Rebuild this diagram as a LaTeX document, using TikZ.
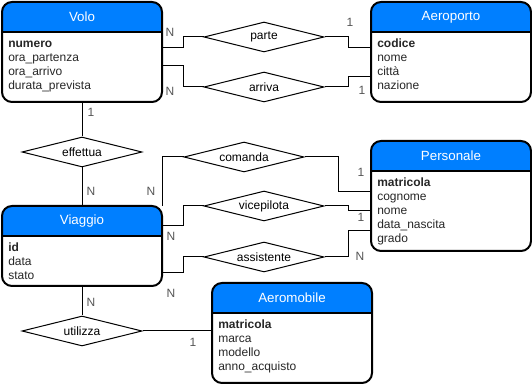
\documentclass[tikz,border=0pt]{standalone}
\usepackage{fontspec}
\setmainfont{Liberation Sans}
\usetikzlibrary{shapes.geometric, calc}

\definecolor{headblue}{RGB}{0,127,255}
\definecolor{cardgray}{RGB}{85,85,85}

% entity box: name, top-left corner, height, title, attribute list
\newcommand{\erentity}[5]{%
  \node[entbox, minimum height=#3*0.75pt] (#1) at (#2) {};
  \begin{scope}
    \clip[rounded corners=7.5pt] (#1.north west) rectangle (#1.south east);
    \fill[headblue] (#1.north west) rectangle ($(#1.north east)+(0,30)$);
  \end{scope}
  \draw[entline, rounded corners=7.5pt] (#1.north west) rectangle (#1.south east);
  \draw[entline] ($(#1.north west)+(0,30)$) -- ($(#1.north east)+(0,30)$);
  \node[enttitle] (#1-title) at ($(#1.north)+(0,15)$) {#4};
  \foreach \attr [count=\i] in {#5}
    \node[attr] (#1-a\i) at ($(#1.north west)+(6,32+14*\i)$) {\attr};
}

\begin{document}
\begin{tikzpicture}[
    x=0.75pt, y=-0.75pt,
    entbox/.style={rectangle, anchor=north west, minimum width=120pt,
        inner sep=0pt, outer sep=0pt},
    entline/.style={line width=1.5pt, black},
    enttitle/.style={text=white, font=\fontsize{10}{12}\selectfont},
    attr/.style={anchor=base west, inner sep=0pt, text=black!85,
        font=\fontsize{9}{10.8}\selectfont},
    rel/.style={diamond, draw, fill=white, line width=0.75pt, aspect=4,
        minimum width=90pt, minimum height=22.5pt, inner sep=0pt,
        font=\fontsize{9}{10.8}\selectfont},
    conn/.style={line width=0.75pt},
    card/.style={text=cardgray, inner sep=0pt, font=\fontsize{9}{10.8}\selectfont}]
\useasboundingbox (0,0) rectangle (532,384);

% entities
\erentity{volo}{2,2}{100}{Volo}{\textbf{numero}, ora\_partenza, ora\_arrivo, durata\_prevista}
\erentity{aeroporto}{371,2}{100}{Aeroporto}{\textbf{codice}, nome, città, nazione}
\erentity{personale}{371,141}{110}{Personale}{\textbf{matricola}, cognome, nome, data\_nascita, grado}
\erentity{viaggio}{2,206}{80}{Viaggio}{\textbf{id}, data, stato}
\erentity{aeromobile}{212,283}{100}{Aeromobile}{\textbf{matricola}, marca, modello, anno\_acquisto}

% relationships
\node[rel] (parte) at (264,37) {parte};
\node[rel] (arriva) at (264,87) {arriva};
\node[rel] (effettua) at (82,152) {effettua};
\node[rel] (comanda) at (244,157) {comanda};
\node[rel] (vicepilota) at (264,206) {vicepilota};
\node[rel] (assistente) at (264,257) {assistente};
\node[rel] (utilizza) at (82,331) {utilizza};

% links
\draw[conn] ($(volo.north east)+(0,46)$) -- ++(21,0) |- (parte.west);
\draw[conn] (parte.east) -- ++(24,0) |- ($(aeroporto.north west)+(0,46)$);
\draw[conn] ($(volo.north east)+(0,64)$) -- ++(21,0) |- (arriva.west);
\draw[conn] (arriva.east) -- ++(24,0) |- ($(aeroporto.north west)+(0,75)$);
\draw[conn] (volo.south) -- (effettua.north);
\draw[conn] (effettua.south) -- (viaggio.north);
\draw[conn] (viaggio.north east) |- (comanda.west);
\draw[conn] (comanda.east) -- ++(34,0) |- ($(personale.north west)+(0,51)$);
\draw[conn] ($(viaggio.north east)+(0,20)$) -- ++(21,0) |- (vicepilota.west);
\draw[conn] (vicepilota.east) -- ++(24,0) |- ($(personale.north west)+(0,70)$);
\draw[conn] ($(viaggio.north east)+(0,67)$) -- ++(21,0) |- (assistente.west);
\draw[conn] (assistente.east) -- ++(24,0) |- ($(personale.north west)+(0,90)$);
\draw[conn] (viaggio.south) -- (utilizza.north);
\draw[conn] (utilizza.east) -- ($(aeromobile.north west)+(0,48)$);

% cardinalities
\node[card] (c-volo-parte) at (170,32) {N};
\node[card] (c-parte-aer) at (350,22) {1};
\node[card] (c-volo-arriva) at (170,91) {N};
\node[card] (c-arriva-aer) at (362,90) {1};
\node[card] (c-volo-eff) at (91,112) {1};
\node[card] (c-eff-viaggio) at (91,191) {N};
\node[card] (c-viaggio-com) at (151,191) {N};
\node[card] (c-com-pers) at (361,172) {1};
\node[card] (c-viaggio-vice) at (171,236) {N};
\node[card] (c-vice-pers) at (361,217) {1};
\node[card] (c-viaggio-ass) at (171,293) {N};
\node[card] (c-ass-pers) at (360,256) {N};
\node[card] (c-viaggio-util) at (91,302) {N};
\node[card] (c-util-aerom) at (193,342) {1};
\end{tikzpicture}
\end{document}
